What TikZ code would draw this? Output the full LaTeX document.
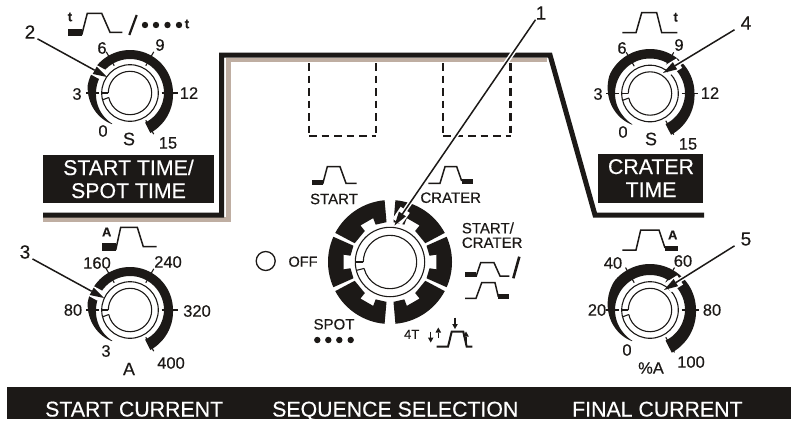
\documentclass[tikz,border=0pt]{standalone}
\usepackage{fontspec}
\setmainfont{Liberation Sans}[FakeBold=0.35]
\usetikzlibrary{calc}
\definecolor{ink}{HTML}{1C1917}
\definecolor{shade}{HTML}{BFAEA2}
\newcommand{\fs}[1]{\fontsize{#1}{#1}\selectfont}
\tikzset{
  lbl/.style={inner sep=0pt,text=ink,font=\fs{16.5}},
  num/.style={inner sep=0pt,text=ink,font=\fs{19}},
  small/.style={inner sep=0pt,text=ink,font=\fs{15}},
  sym/.style={inner sep=0pt,text=ink,font=\fs{13}\bfseries},
  rev/.style={inner sep=0pt,text=white,font=\fs{21.3},anchor=base},
  panel/.style={fill=ink,draw=none},
  wave/.style={draw=ink,line width=1.5pt,miter limit=10},
  pad/.style={fill=ink,draw=none},
  dot/.style={fill=ink,draw=none},
  ring/.style={draw=ink,line width=1.1pt},
  callout/.style={draw=ink,line width=1.5pt},
  halo/.style={draw=white,line width=4.5pt},
  headhalo/.style={draw=white,line width=11pt},
  mini/.style={draw=ink,line width=1.4pt},
  dashbox/.style={draw=ink,line width=2.7pt,dash pattern=on 7.5pt off 5pt},
}
\newcommand{\pointer}[5]{% style, from, to, head length, head half-width
  \draw[#1] (#2) -- ($(#3)!#4!(#2)$);
  \fill[ink] (#3) -- ($($(#3)!#4!(#2)$)!#5!90:(#2)$) -- ($($(#3)!#4!(#2)$)!#5!-90:(#2)$) -- cycle;}
\newcommand{\knob}[5]{% x, y, outer radius, inner radius, tick outer
  \begin{scope}[shift={(#1,#2)},y=1pt]
    \fill[ink] plot[domain=240:-63,samples=70] ({\x}:{min(#3,36+(240-\x)*0.1)+max(0,-\x)*0.03})
      -- plot[domain=-63:240,samples=70] ({\x}:{max(#4,35.5-(240-\x)*0.025)-max(0,-\x)*0.012}) -- cycle;
    \foreach \a in {120,60,0,-60} \draw[draw=ink,line width=1.1pt] (\a:31.5) -- (\a:#5);
    \draw[draw=ink,line width=1.1pt] (180:31.5) -- (180:44);
    \draw[ring] (0,0) circle[radius=28.3pt];
    \draw[ring] (192:21.7) arc[start angle=192,end angle=540,radius=21.7pt];
    \draw[ring] (180:28.3) -- (180:21.7);
    \draw[ring] (194:28.3) -- (192:21.7);
  \end{scope}}
\begin{document}
\begin{tikzpicture}[x=1pt,y=-1pt]
\useasboundingbox (0,0) rectangle (791,423);
\fill[white] (0,0) rectangle (791,423);
% frame
\draw[draw=shade,line width=4.5pt] (43,219.5) -- (228.5,219.5) -- (228.5,60) -- (547,60);
\draw[draw=ink,line width=5pt,miter limit=10] (43,215) -- (221.5,215) -- (221.5,55) -- (550,55) -- (595,215) -- (704,215);
% dashed
\draw[dashbox] (309,63) -- (309,136);
\draw[dashbox] (376,63) -- (376,136);
\draw[dashbox] (309,136) -- (376,136);
\draw[dashbox] (443,63) -- (443,136);
\draw[dashbox] (510.5,63) -- (510.5,136);
\draw[dashbox] (443,136) -- (510.5,136);
% panels
\fill[panel] (43,155) rectangle (214,203);
\fill[panel] (598,154) rectangle (703,203);
\fill[panel] (7,387) rectangle (791,419);
\node[rev] (t1) at (128.5,175) {START TIME/};
\node[rev] (t2) at (128.5,198) {SPOT TIME};
\node[rev] (t3) at (651,174) {CRATER};
\node[rev] (t4) at (651,197) {TIME};
\node[rev,anchor=base west] (t5) at (45,416.5) {START CURRENT};
\node[rev,anchor=base west] (t6) at (272,416.5) {SEQUENCE SELECTION};
\node[rev,anchor=base west] (t7) at (572,416.5) {FINAL CURRENT};
% knobs
\knob{130}{93}{43}{34}{47.5}
\knob{130}{310}{43}{34}{47.5}
\knob{650}{93.5}{44.5}{35}{47.5}
\knob{650}{310}{46}{35}{49}
% labels knob 1
\node[lbl] (a6) at (102,48) {6};
\node[lbl] (a9) at (160,45) {9};
\node[lbl] (a3) at (77,94) {3};
\node[lbl] (a12) at (189,93) {12};
\node[lbl] (a0) at (103,131) {0};
\node[lbl,font=\fs{18}] (aS) at (129,139) {S};
\node[lbl] (a15) at (168,143) {15};
% knob 2
\node[lbl] (b160) at (97,263) {160};
\node[lbl] (b240) at (168,262) {240};
\node[lbl] (b80) at (73,310) {80};
\node[lbl] (b320) at (197,311) {320};
\node[lbl] (b3) at (106,351) {3};
\node[lbl,font=\fs{18}] (bA) at (129,369) {A};
\node[lbl] (b400) at (171,363) {400};
% knob 4
\node[lbl] (c6) at (622,48) {6};
\node[lbl] (c9) at (679,45) {9};
\node[lbl] (c3) at (598,94) {3};
\node[lbl] (c12) at (710,93) {12};
\node[lbl] (c0) at (623,132) {0};
\node[lbl,font=\fs{18}] (cS) at (651,139) {S};
\node[lbl] (c15) at (688,144) {15};
% knob 5
\node[lbl] (d40) at (613,263) {40};
\node[lbl] (d60) at (683,261) {60};
\node[lbl] (d20) at (597,310) {20};
\node[lbl] (d80) at (712,310) {80};
\node[lbl] (d0) at (627,350) {0};
\node[lbl] (dA) at (651,368) {\%A};
\node[lbl] (d100) at (691,362) {100};
% centre knob
\begin{scope}[shift={(390,262)},y=1pt]
  \foreach \s/\e/\m in {95/152/120,156/204/180,208/265/240,275/332/300,336/384/360,28/85/60}{
    \fill[ink] (\s:62) arc[start angle=\s,end angle=\e,radius=62pt]
      -- (\e:40) -- ({\m+9}:40) -- ({\m+9}:47) -- ({\m-9}:47) -- ({\m-9}:40) -- (\s:40) -- cycle;
  }
  \draw[ring] (0,0) circle[radius=34.7pt];
  \draw[ring] (194:26.7) arc[start angle=194,end angle=540,radius=26.7pt];
  \draw[ring] (180:34.7) -- (180:26.7);
  \draw[ring] (194:34.7) -- (194:26.7);
\end{scope}
% waveform icons, top-left
\fill[pad] (67.7,29.3) rectangle (81.7,36);
\node[sym] (s1) at (70,17) {t};
\draw[wave] (81.7,35) -- (87.3,13.3) -- (101.7,13.3) -- (110,32.3) -- (122.3,32.3);
\draw[draw=ink,line width=2.2pt] (129.3,35) -- (136.7,15);
\foreach \x in {145,156,167.5,179} \fill[dot] (\x,25) circle[radius=3.2pt];
\node[sym] (s2) at (187,24) {t};
% bottom-left
\fill[pad] (101.7,242.7) rectangle (115.7,250.7);
\node[sym] (s3) at (106.7,232) {A};
\draw[wave] (115.7,250) -- (120.7,227.3) -- (137.3,227.3) -- (143.3,246.7) -- (156.7,246.7);
% top-right
\draw[wave] (622.3,32.7) -- (636,32.7) -- (641.7,12.7) -- (656.7,12.7) -- (661.7,32.7) -- (677.3,32.7);
\node[sym] (s4) at (675.7,17.3) {t};
% bottom-right
\draw[wave] (622.3,250) -- (636,250) -- (640.7,230) -- (659,230) -- (665,248);
\fill[pad] (665,245.7) rectangle (677.7,250.7);
\node[sym] (s5) at (672.7,235) {A};
% START
\fill[pad] (311.7,180) rectangle (322.7,185);
\draw[wave] (322.7,184) -- (327.3,166.7) -- (340,166.7) -- (346,183.3) -- (356.7,183.3);
\node[small] (m1) at (334,199) {START};
% CRATER
\draw[wave] (428.3,183.3) -- (440,183.3) -- (445,166.7) -- (456.7,166.7) -- (461.7,181);
\fill[pad] (461.7,179.3) rectangle (472.7,184.3);
\node[small] (m2) at (450.7,197.7) {CRATER};
% START/CRATER
\node[small,anchor=west] (m3) at (461.7,228) {START/};
\node[small,anchor=west] (m4) at (461.7,242.7) {CRATER};
\fill[pad] (465,272.3) rectangle (476,277.3);
\draw[wave] (476,276.7) -- (480.7,262.7) -- (494,262.7) -- (500,276) -- (509.3,276);
\draw[draw=ink,line width=2.6pt] (513.3,278.3) -- (519.3,256.7);
\draw[wave] (465,298.3) -- (476,298.3) -- (481.7,282.7) -- (495,282.7) -- (498.3,296.7);
\fill[pad] (498.3,294) rectangle (509.3,299);
% OFF
\node[circle,draw=ink,line width=1.3pt,minimum size=19pt,inner sep=0pt] (off) at (265.7,261) {};
\node[small,font=\fs{14.5}] (m5) at (303,261.7) {OFF};
% SPOT
\node[small] (m6) at (334,324.3) {SPOT};
\foreach \x in {317.3,328.3,339.3,350.7} \fill[dot] (\x,340) circle[radius=3.2pt];
% 4T
\node[small,font=\fs{13}] (m7) at (411.7,334.3) {4T};
\draw[wave,line width=2pt] (436.7,346.7) -- (448,346.7) -- (451.7,331.7) -- (463.3,331.7) -- (466.7,346.7) -- (472.3,346.7);
\coordinate (u1) at (430.7,331.7); \coordinate (v1) at (430.7,342.5);
\coordinate (u2) at (438.3,338);   \coordinate (v2) at (438.3,327.5);
\coordinate (u3) at (455,317.5);   \coordinate (v3) at (455,329);
\coordinate (u4) at (466,342.5);   \coordinate (v4) at (466,331.5);
\pointer{mini}{u1}{v1}{5pt}{2.8pt}
\pointer{mini}{u2}{v2}{5pt}{2.8pt}
\pointer{mini}{u3}{v3}{5pt}{2.8pt}
\pointer{mini}{u4}{v4}{5pt}{2.8pt}
% callouts
\node[num] (n1) at (541,13) {1};
\node[num] (n2) at (30,32) {2};
\node[num] (n3) at (25,252) {3};
\node[num] (n4) at (746,23) {4};
\node[num] (n5) at (746,239) {5};
\coordinate (q1) at (n1.south west);
\coordinate (q2) at ([shift={(2,0)}]n2.south east);
\coordinate (q3) at ([shift={(2,0)}]n3.south east);
\coordinate (q4) at ([shift={(-6,0)}]n4.south west);
\coordinate (q5) at ([shift={(-6,0)}]n5.south west);
\coordinate (p1) at (394.5,225.5);
\coordinate (p2) at (107,77);
\coordinate (p3) at (104,298);
\coordinate (p4) at (663,73);
\coordinate (p5) at (664,290);
\foreach \i in {1,...,5} \draw[halo,shorten >=6pt] (q\i) -- (p\i);
\foreach \i in {1,...,5} \draw[headhalo] ($(p\i)!19pt!(q\i)$) -- ($(p\i)!4.5pt!(q\i)$);
\foreach \i in {1,...,5} {\pointer{callout}{q\i}{p\i}{14pt}{4.2pt}}
\end{tikzpicture}
\end{document}
